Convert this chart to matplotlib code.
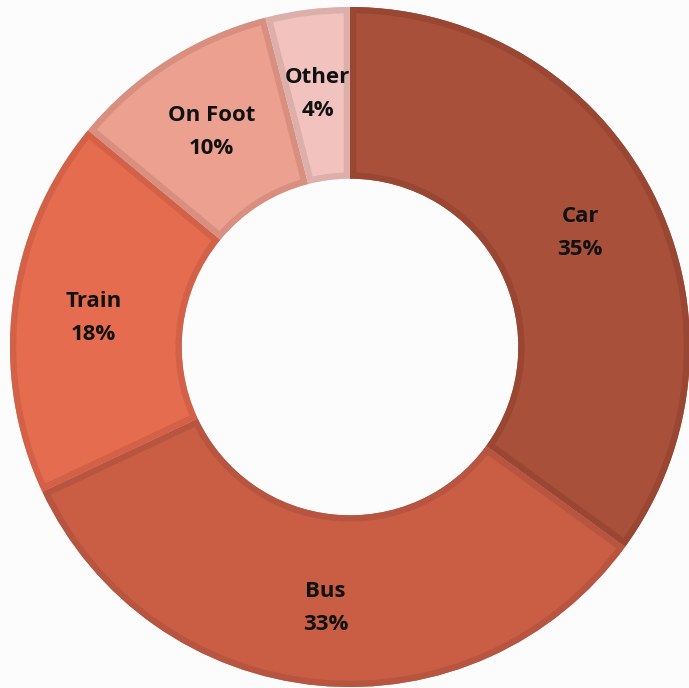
import numpy as np
import matplotlib.pyplot as plt
from matplotlib.patches import Wedge

# ---------------------- Data ----------------------

labels = ['Car', 'Bus', 'Train', 'On Foot', 'Other']
shares = [35, 33, 18, 10, 4]
fill_colors = ['#A9503A', '#C95E45', '#E56C4F', '#EBA090', '#F2C3BE']
edge_colors = ['#994633', '#B75540', '#D26147', '#D98F80', '#DDAFAA']

# ---------------------- Plot ----------------------

fig = plt.figure(figsize=(6.89, 6.88), dpi=100, facecolor='#FCFCFC')
ax = fig.add_axes([10 / 689, 1 / 688, 680 / 689, 680 / 688])
ax.set_xlim(-1, 1)
ax.set_ylim(-1, 1)
ax.set_aspect('equal')
ax.axis('off')

total = sum(shares)
outer, width = 1.0, 0.505
angle = 90.0
for lab, val, fc, ec in zip(labels, shares, fill_colors, edge_colors):
    sweep = 360.0 * val / total
    t1, t2 = angle - sweep, angle
    w = Wedge((0, 0), outer, t1, t2, width=width, facecolor=fc, edgecolor='none')
    ax.add_patch(w)
    # inner stroke: border clipped to the wedge itself
    border = Wedge((0, 0), outer, t1, t2, width=width, facecolor='none',
                   edgecolor=ec, linewidth=9)
    ax.add_patch(border)
    border.set_clip_path(w)

    mid = np.radians((t1 + t2) / 2.0)
    r = 0.76
    x, y = r * np.cos(mid), r * np.sin(mid) - 0.01
    ax.text(x, y, f'{lab}\n{val}%', ha='center', va='center',
            fontsize=16, fontweight='bold', family='Open Sans',
            color='#111111', linespacing=1.75)
    angle -= sweep

fig.savefig('out.png', dpi=100, facecolor=fig.get_facecolor())
